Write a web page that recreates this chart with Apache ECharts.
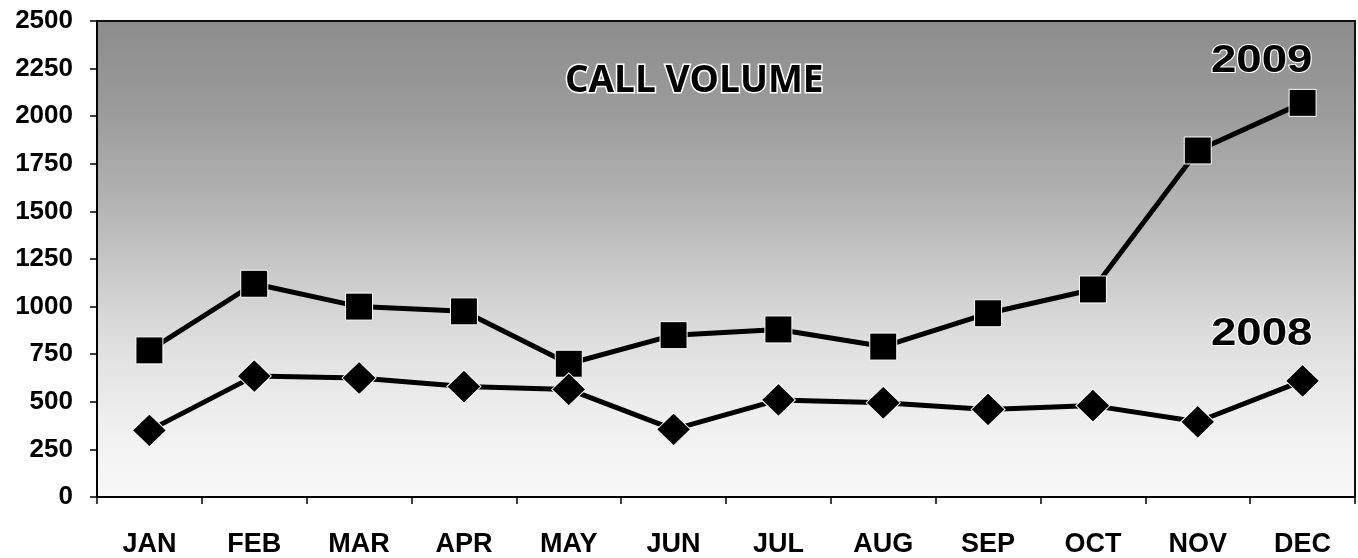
<!DOCTYPE html>
<html><head><meta charset="utf-8">
<script src="https://cdn.jsdelivr.net/npm/echarts@6/dist/echarts.min.js"></script>
<style>html,body{margin:0;padding:0;background:#fff}#c{width:1358px;height:558px}</style>
</head><body><div id="c"></div>
<script>
var months = ['JAN','FEB','MAR','APR','MAY','JUN','JUL','AUG','SEP','OCT','NOV','DEC'];
var calls2009 = [770,1120,1000,975,700,850,880,790,965,1090,1820,2070];
var calls2008 = [350,635,625,580,565,355,510,495,460,480,395,610];
var yTicks = {min:0, max:2500, interval:250};

var chart = echarts.init(document.getElementById('c'));
var font = 'Liberation Sans, Arial, sans-serif';
chart.setOption({
  animation:false,
  backgroundColor:'#fff',
  grid:{left:97,right:3,top:21,bottom:60,show:true,borderColor:'#111',borderWidth:2,
    backgroundColor:{type:'linear',x:0,y:0,x2:0,y2:1,colorStops:[
      {offset:0,color:'#8c8c8c'},{offset:0.2,color:'#9c9c9c'},{offset:0.4,color:'#b6b6b6'},
      {offset:0.55,color:'#cdcdcd'},{offset:0.7,color:'#e2e2e2'},{offset:0.85,color:'#f0f0f0'},{offset:1,color:'#f8f8f8'}]}},
  xAxis:{type:'category',data:months,boundaryGap:true,
    axisLine:{lineStyle:{color:'#000',width:2}},
    axisTick:{show:true,length:7,lineStyle:{color:'#000',width:1.5}},
    axisLabel:{color:'#000',fontFamily:font,fontWeight:'bold',fontSize:27,margin:34},
    splitLine:{show:false}},
  yAxis:{type:'value',min:yTicks.min,max:yTicks.max,interval:yTicks.interval,
    axisLine:{show:true,lineStyle:{color:'#000',width:2}},
    axisTick:{show:true,length:7,lineStyle:{color:'#000',width:1.5}},
    axisLabel:{color:'#000',fontFamily:font,fontWeight:'bold',fontSize:26,margin:24,
      formatter:function(v){return String(v);}},
    splitLine:{show:false}},
  graphic:[
    {type:'text',x:565,y:63,z:10,style:{text:'CALL VOLUME',x:0,y:0,verticalAlign:'top',fontFamily:'Open Sans, sans-serif',fontWeight:'bold',fontSize:37,fill:'#000',stroke:'#fff',lineWidth:3}},
    {type:'text',x:1211,y:43,scaleX:1.2,z:10,style:{text:'2009',x:0,y:0,verticalAlign:'top',fontFamily:font,fontWeight:'bold',fontSize:38,fill:'#000',stroke:'#fff',lineWidth:2}},
    {type:'text',x:1211,y:316,scaleX:1.2,z:10,style:{text:'2008',x:0,y:0,verticalAlign:'top',fontFamily:font,fontWeight:'bold',fontSize:38,fill:'#000',stroke:'#fff',lineWidth:2}}
  ],
  series:[
    {name:'2009',type:'line',data:calls2009,symbol:'rect',symbolSize:27,
      lineStyle:{color:'#000',width:5},itemStyle:{color:'#000',borderColor:'#fff',borderWidth:1}},
    {name:'2008',type:'line',data:calls2008,symbol:'diamond',symbolSize:[34,33],
      lineStyle:{color:'#000',width:5},itemStyle:{color:'#000',borderColor:'#fff',borderWidth:1}}
  ]
});
</script></body></html>
